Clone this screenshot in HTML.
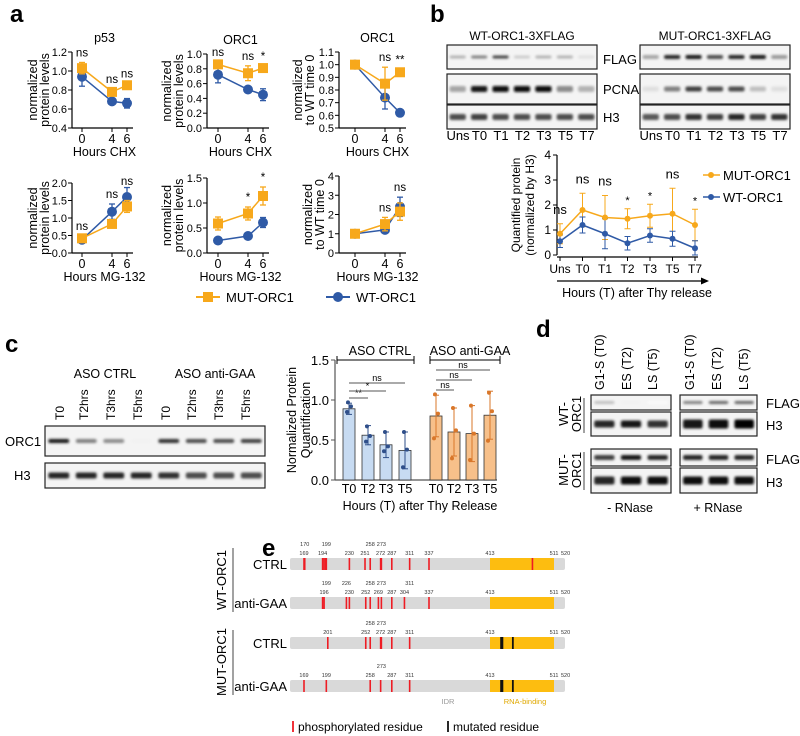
<!DOCTYPE html>
<html><head><meta charset="utf-8">
<style>
html,body{margin:0;padding:0;background:#fff;}
svg{display:block;font-family:"Liberation Sans",sans-serif;}
</style></head>
<body>
<svg id="fig" width="800" height="736" viewBox="0 0 800 736" xmlns="http://www.w3.org/2000/svg">
<defs>
<filter id="blur" x="-20%" y="-100%" width="140%" height="300%"><feGaussianBlur stdDeviation="1.3"/></filter>
</defs>
<text x="10" y="22" font-size="24" font-weight="bold">a</text>
<text x="430" y="22" font-size="24" font-weight="bold">b</text>
<text x="5" y="352" font-size="24" font-weight="bold">c</text>
<text x="536" y="337" font-size="24" font-weight="bold">d</text>
<text x="262" y="556" font-size="24" font-weight="bold">e</text>
<g id="root"></g>
</svg>
<script>
const ORANGE='#f7a81b', BLUE='#2f5aa6';
// ---------- Panel a data ----------
const aHours=[0,4,6];
const aMut1=[1.03,0.78,0.85], aMut1Err=[0.06,0.03,0.02], aWt1=[0.94,0.68,0.66], aWt1Err=[0.1,0.03,0.05], aSig1=['ns','ns','ns'];
const aMut2=[0.86,0.74,0.81], aMut2Err=[0.03,0.1,0.03], aWt2=[0.72,0.52,0.45], aWt2Err=[0.11,0.03,0.08], aSig2=['ns','ns','*'];
const aMut3=[1.0,0.85,0.94], aMut3Err=[0,0.13,0.02], aWt3=[1.0,0.74,0.62], aWt3Err=[0,0.09,0.01], aSig3=['','ns','**'];
const aMut4=[0.42,0.83,1.33], aMut4Err=[0.05,0.05,0.17], aWt4=[0.38,1.18,1.6], aWt4Err=[0.1,0.22,0.27], aSig4=['ns','ns','ns'];
const aMut5=[0.59,0.79,1.14], aMut5Err=[0.13,0.13,0.18], aWt5=[0.25,0.34,0.61], aWt5Err=[0.03,0.06,0.1], aSig5=['','*','*'];
const aMut6=[1,1.5,2.15], aMut6Err=[0,0.35,0.45], aWt6=[1,1.2,2.4], aWt6Err=[0,0.1,0.5], aSig6=['','ns','ns'];
const aTicks1=['0.4','0.6','0.8','1.0','1.2'], aTicks2=['0.0','0.2','0.4','0.6','0.8','1.0'], aTicks3=['0.5','0.6','0.7','0.8','0.9','1.0','1.1'];
const aTicks4=['0.0','0.5','1.0','1.5','2.0'], aTicks5=['0.0','0.5','1.0','1.5'], aTicks6=['0','1','2','3','4'];
// ---------- Panel b data ----------
const bCats=['Uns','T0','T1','T2','T3','T5','T7'];
const bMut=[0.85,1.8,1.5,1.45,1.57,1.65,1.2], bMutErr=[0.4,0.67,0.88,0.4,0.46,1.02,0.63];
const bWt=[0.55,1.2,0.85,0.47,0.78,0.65,0.27], bWtErr=[0.25,0.32,0.6,0.27,0.27,0.3,0.3];
const bSig=['ns','ns','ns','*','*','ns','*'];
const bTicks=['0','1','2','3','4'];
// ---------- Panel c data ----------
const cCats=['T0','T2','T3','T5'];
const cCtrl=[0.89,0.56,0.44,0.37], cCtrlErr=[0.07,0.12,0.16,0.23];
const cCtrlPts=[[0.97,0.85,0.92],[0.67,0.48,0.55],[0.6,0.36,0.42],[0.6,0.16,0.38]];
const cGaa=[0.8,0.6,0.58,0.81], cGaaErr=[0.26,0.3,0.35,0.3];
const cGaaPts=[[1.07,0.52,0.83],[0.9,0.27,0.62],[0.93,0.25,0.58],[1.09,0.49,0.86]];
const cTicks=['0.0','0.5','1.0','1.5'];

const root=document.getElementById('root');
const NS='http://www.w3.org/2000/svg';
function mk(tag,attrs,name,parent){
  const el=document.createElementNS(NS,tag);
  for(const k in attrs) el.setAttribute(k,attrs[k]);
  
  
  (parent||root).appendChild(el);
  return el;
}
function txt(x,y,s,size,name,extra){
  const a=Object.assign({x:x,y:y,'font-size':size},extra||{});
  const t=mk('text',a,name);
  t.textContent=s;
  return t;
}
function line(x1,y1,x2,y2,name,col,w){
  return mk('line',{x1:x1,y1:y1,x2:x2,y2:y2,stroke:col||'#000','stroke-width':w||1},name);
}

// ---------- Panel a ----------
function lineChart(cfg){
  const {ax,x0,yTop,yBot,ticks,mut,mutE,wt,wtE,sig,title,ylab,xlab,id,tx}=cfg;
  const vmin=parseFloat(ticks[0]), vmax=parseFloat(ticks[ticks.length-1]);
  const Y=v=>yBot-(v-vmin)/(vmax-vmin)*(yBot-yTop);
  const X=h=>x0+h/6*45;
  line(ax,yTop,ax,yBot,id+'-y-axis','#000',1.2);
  line(ax,yBot,X(6)+6,yBot,id+'-x-axis','#000',1.2);
  ticks.forEach(t=>{const y=Y(parseFloat(t));line(ax-4,y,ax,y,id+'-y-tick');txt(ax-5,y+4,t,11,id+'-y-tick-label',{'text-anchor':'end'});});
  aHours.forEach(h=>{line(X(h),yBot,X(h),yBot+4,id+'-x-tick');txt(X(h),yBot+15,String(h),12.5,id+'-x-tick-label',{'text-anchor':'middle'});});
  txt((x0+X(6))/2,yBot+28,xlab,12.5,id+'-x-title',{'text-anchor':'middle'});
  if(title) txt((x0+X(6))/2,yTop-10,title,12.5,id+'-title',{'text-anchor':'middle'});
  const cx=tx, cy=(yTop+yBot)/2;
  txt(cx,cy,ylab[0],12.5,id+'-y-title',{'text-anchor':'middle',transform:`rotate(-90 ${cx} ${cy})`});
  txt(cx+12,cy,ylab[1],12.5,id+'-y-title-2',{'text-anchor':'middle',transform:`rotate(-90 ${cx+12} ${cy})`});
  [[wt,wtE,BLUE,'wt'],[mut,mutE,ORANGE,'mut']].forEach(([vals,errs,col,nm])=>{
    mk('polyline',{points:vals.map((v,i)=>X(aHours[i])+','+Y(v)).join(' '),fill:'none',stroke:col,'stroke-width':1.5},id+'-'+nm+'-line');
    vals.forEach((v,i)=>{
      const x=X(aHours[i]);
      if(errs[i]>0){line(x,Y(v-errs[i]),x,Y(v+errs[i]),id+'-'+nm+'-err',col,1.3);
        line(x-3,Y(v-errs[i]),x+3,Y(v-errs[i]),id+'-'+nm+'-err-cap',col,1.3);line(x-3,Y(v+errs[i]),x+3,Y(v+errs[i]),id+'-'+nm+'-err-cap',col,1.3);}
      if(nm==='mut') mk('rect',{x:x-5,y:Y(v)-5,width:10,height:10,fill:col},id+'-mut-point');
      else mk('circle',{cx:x,cy:Y(v),r:5,fill:col},id+'-wt-point');
    });
  });
  sig.forEach((s,i)=>{ if(!s) return;
    const top=Math.min(Y(mut[i]+mutE[i]),Y(wt[i]+wtE[i]));
    txt(X(aHours[i]),Math.max(top-6,yTop+2),s,11.5,id+'-sig-label',{'text-anchor':'middle'});});
}
const pl=['normalized','protein levels'], wtl=['normalized','to WT time 0'];
lineChart({id:'a1',ax:72,x0:82,tx:37,yTop:52,yBot:128,ticks:aTicks1,mut:aMut1,mutE:aMut1Err,wt:aWt1,wtE:aWt1Err,sig:aSig1,title:'p53',ylab:pl,xlab:'Hours CHX'});
lineChart({id:'a2',ax:207,x0:218,tx:171,yTop:54,yBot:128,ticks:aTicks2,mut:aMut2,mutE:aMut2Err,wt:aWt2,wtE:aWt2Err,sig:aSig2,title:'ORC1',ylab:pl,xlab:'Hours CHX'});
lineChart({id:'a3',ax:339,x0:355,tx:302,yTop:52,yBot:128,ticks:aTicks3,mut:aMut3,mutE:aMut3Err,wt:aWt3,wtE:aWt3Err,sig:aSig3,title:'ORC1',ylab:wtl,xlab:'Hours CHX'});
lineChart({id:'a4',ax:72,x0:82,tx:37,yTop:183,yBot:253,ticks:aTicks4,mut:aMut4,mutE:aMut4Err,wt:aWt4,wtE:aWt4Err,sig:aSig4,title:'',ylab:pl,xlab:'Hours MG-132'});
lineChart({id:'a5',ax:207,x0:218,tx:171,yTop:178,yBot:253,ticks:aTicks5,mut:aMut5,mutE:aMut5Err,wt:aWt5,wtE:aWt5Err,sig:aSig5,title:'',ylab:pl,xlab:'Hours MG-132'});
lineChart({id:'a6',ax:339,x0:355,tx:312,yTop:176,yBot:253,ticks:aTicks6,mut:aMut6,mutE:aMut6Err,wt:aWt6,wtE:aWt6Err,sig:aSig6,title:'',ylab:wtl,xlab:'Hours MG-132'});
// legend a
line(196,297,220,297,'legend-mut-line',ORANGE,2);
mk('rect',{x:203,y:292,width:10,height:10,fill:ORANGE},'legend-mut-marker');
txt(226,302,'MUT-ORC1',13,'legend-mut-label');
line(326,297,350,297,'legend-wt-line',BLUE,2);
mk('circle',{cx:338,cy:297,r:5,fill:BLUE},'legend-wt-marker');
txt(356,302,'WT-ORC1',13,'legend-wt-label');

// ---------- Blots ----------
function blot(x,y,w,h,bands,name,thick){
  mk('rect',{x:x,y:y,width:w,height:h,fill:'#f4f4f4',stroke:'#222','stroke-width':1.2},name);
  const n=bands.length, lw=w/n;
  bands.forEach((b,i)=>{ if(b<=0) return;
    const g=Math.round(255*(1-b));
    mk('rect',{x:x+i*lw+lw*0.12,y:y+h/2-(thick||3)/2,width:lw*0.76,height:thick||3,rx:2,fill:`rgb(${g},${g},${g})`,filter:'url(#blur)'},name+'-band');
  });
}
// panel b blots
txt(522,40,'WT-ORC1-3XFLAG',12,'b-wt-title',{'text-anchor':'middle'});
txt(715,40,'MUT-ORC1-3XFLAG',12,'b-mut-title',{'text-anchor':'middle'});
blot(447,45,150,24,[0.3,0.5,0.75,0.2,0.3,0.3,0.12],'b-wt-flag-blot',3);
blot(447,74,150,30,[0.35,0.9,0.95,0.95,0.95,0.45,0.3],'b-wt-pcna-blot',6);
blot(447,105,150,24,[0.7,0.75,0.7,0.7,0.7,0.7,0.7],'b-wt-h3-blot',6);
blot(640,45,150,24,[0.35,0.85,0.9,0.7,0.85,0.9,0.4],'b-mut-flag-blot',4);
blot(640,74,150,30,[0.12,0.5,0.75,0.7,0.7,0.25,0.12],'b-mut-pcna-blot',5);
blot(640,105,150,24,[0.65,0.7,0.8,0.75,0.85,0.75,0.8],'b-mut-h3-blot',6);
txt(603,64,'FLAG',13,'b-flag-label');txt(603,94,'PCNA',13,'b-pcna-label');txt(603,122,'H3',13,'b-h3-label');
bCats.forEach((c,i)=>{txt(458+i*21.5,140,c,13,'b-wt-lane-label',{'text-anchor':'middle'});txt(651+i*21.5,140,c,13,'b-mut-lane-label',{'text-anchor':'middle'});});

// ---------- Panel b chart ----------
(function(){
  const ax=557,yTop=155,yBot=255,x0=560,dx=22.5;
  const Y=v=>yBot-v/4*(yBot-yTop), X=i=>x0+i*dx;
  line(ax,yTop,ax,yBot,'b-y-axis','#000',1.2);
  line(ax,yBot+2,X(6)+3,yBot+2,'b-x-axis','#000',1.2);
  bTicks.forEach(t=>{const y=Y(+t);line(ax-4,y,ax,y,'b-y-tick');txt(ax-6,y+4,t,12,'b-y-tick-label',{'text-anchor':'end'});});
  bCats.forEach((c,i)=>{line(X(i),yBot+2,X(i),yBot+6,'b-x-tick');txt(X(i),yBot+18,c,12,'b-x-tick-label',{'text-anchor':'middle'});});
  line(ax,281,702,281,'b-time-arrow','#000',1.2);
  mk('polygon',{points:'709,281 701,277.5 701,284.5',fill:'#000'},'b-time-arrowhead');
  txt(637,297,'Hours (T) after Thy release',12.5,'b-x-title',{'text-anchor':'middle'});
  txt(520,205,'Quantified protein',12,'b-y-title',{'text-anchor':'middle',transform:'rotate(-90 520 205)'});
  txt(534,205,'(normalized by H3)',12,'b-y-title-2',{'text-anchor':'middle',transform:'rotate(-90 534 205)'});
  [[bMut,bMutErr,ORANGE,'mut'],[bWt,bWtErr,BLUE,'wt']].forEach(([v,e,col,nm])=>{
    v.forEach((val,i)=>{const x=X(i);line(x,Y(Math.max(0,val-e[i])),x,Y(val+e[i]),'b-'+nm+'-err',col,1);
      line(x-3,Y(val+e[i]),x+3,Y(val+e[i]),'b-'+nm+'-err-cap',col,1);line(x-3,Y(Math.max(0,val-e[i])),x+3,Y(Math.max(0,val-e[i])),'b-'+nm+'-err-cap',col,1);});
  });
  [[bMut,ORANGE,'mut'],[bWt,BLUE,'wt']].forEach(([v,col,nm])=>{
    mk('polyline',{points:v.map((val,i)=>X(i)+','+Y(val)).join(' '),fill:'none',stroke:col,'stroke-width':1.5},'b-'+nm+'-line');
    v.forEach((val,i)=>mk('circle',{cx:X(i),cy:Y(val),r:3,fill:col},'b-'+nm+'-point'));
  });
  bSig.forEach((s,i)=>{const top=Y(bMut[i]+bMutErr[i]);
    txt(X(i),s==='*'?top-5:top-10,s,s==='*'?11:13,'b-sig-label',{'text-anchor':'middle'});});
  line(703,175,720,175,'b-legend-mut-line',ORANGE,1.5);mk('circle',{cx:711,cy:175,r:3,fill:ORANGE},'b-legend-mut-marker');
  txt(723,180,'MUT-ORC1',13,'b-legend-mut-label');
  line(703,197,720,197,'b-legend-wt-line',BLUE,1.5);mk('circle',{cx:711,cy:197,r:3,fill:BLUE},'b-legend-wt-marker');
  txt(723,202,'WT-ORC1',13,'b-legend-wt-label');
})();

// ---------- Panel c blot ----------
txt(105,378,'ASO CTRL',12.5,'c-ctrl-group-label',{'text-anchor':'middle'});
txt(215,378,'ASO anti-GAA',12.5,'c-gaa-group-label',{'text-anchor':'middle'});
['T0','T2hrs','T3hrs','T5hrs','T0','T2hrs','T3hrs','T5hrs'].forEach((c,i)=>{const x=[64,88,115,142,170,196,223,250][i];
  txt(x,420,c,12,'c-lane-label',{transform:`rotate(-90 ${x} 420)`});});
blot(45,426,220,30,[0.9,0.5,0.45,0.05,0.8,0.7,0.7,0.75],'c-orc1-blot',4);
blot(45,463,220,25,[0.85,0.85,0.85,0.85,0.8,0.7,0.7,0.7],'c-h3-blot',6);
txt(5,446,'ORC1',13,'c-orc1-label');txt(14,480,'H3',13,'c-h3-label');

// ---------- Panel c chart ----------
(function(){
  const ax=335,yTop=360,yBot=480;
  const Y=v=>yBot-v/1.5*(yBot-yTop);
  const xc=[349,368,386,405], xg=[436,454,472,490];
  line(ax,yTop,ax,yBot,'c-y-axis','#555',1.2);
  line(ax,yBot,497,yBot,'c-x-axis','#555',1.2);
  cTicks.forEach(t=>{const y=Y(+t);line(ax-4,y,ax,y,'c-y-tick','#555');txt(ax-6,y+5,t,13,'c-y-tick-label',{'text-anchor':'end'});});
  function bars(vals,errs,pts,xs,fill,stroke,nm){
    vals.forEach((v,i)=>{
      mk('rect',{x:xs[i]-6,y:Y(v),width:12,height:yBot-Y(v),fill:fill,stroke:'#333','stroke-width':0.8},'c-'+nm+'-bar');
      line(xs[i],Y(v-errs[i]),xs[i],Y(v+errs[i]),'c-'+nm+'-err',stroke,1);
      line(xs[i]-3,Y(v+errs[i]),xs[i]+3,Y(v+errs[i]),'c-'+nm+'-err-cap',stroke,1);
      line(xs[i]-3,Y(v-errs[i]),xs[i]+3,Y(v-errs[i]),'c-'+nm+'-err-cap',stroke,1);
      pts[i].forEach((p,j)=>mk('circle',{cx:xs[i]+[-1,-2,2][j],cy:Y(p),r:2,fill:stroke},'c-'+nm+'-dot'));
      txt(xs[i],yBot+13,cCats[i],12.5,'c-'+nm+'-x-label',{'text-anchor':'middle'});
    });
  }
  bars(cCtrl,cCtrlErr,cCtrlPts,xc,'#c7dbf2','#2f4f8a','ctrl');
  bars(cGaa,cGaaErr,cGaaPts,xg,'#f7c08a','#d9772a','gaa');
  txt(420,510,'Hours (T) after Thy Release',12.5,'c-x-title',{'text-anchor':'middle'});
  txt(296,420,'Normalized  Protein',12.5,'c-y-title',{'text-anchor':'middle',transform:'rotate(-90 296 420)'});
  txt(310,420,'Quantification',12.5,'c-y-title-2',{'text-anchor':'middle',transform:'rotate(-90 310 420)'});
  line(337,360,414,360,'c-ctrl-bracket');line(337,356,337,364,'c-ctrl-bracket-end');line(414,356,414,364,'c-ctrl-bracket-end');
  txt(380,355,'ASO CTRL',12.5,'c-ctrl-bracket-label',{'text-anchor':'middle'});
  line(430,360,500,360,'c-gaa-bracket');line(430,356,430,364,'c-gaa-bracket-end');line(500,356,500,364,'c-gaa-bracket-end');
  txt(470,355,'ASO anti-GAA',12.5,'c-gaa-bracket-label',{'text-anchor':'middle'});
  [[368,398,'**'],[386,391,'*'],[405,383,'ns']].forEach(([x2,y,s])=>{line(349,y,x2,y,'c-ctrl-sig-line','#555',1);txt((349+x2)/2,y-2,s,9,'c-ctrl-sig-label',{'text-anchor':'middle'});});
  [[454,390,'ns'],[472,380,'ns'],[490,370,'ns']].forEach(([x2,y,s])=>{line(436,y,x2,y,'c-gaa-sig-line','#555',1);txt((436+x2)/2,y-2,s,9,'c-gaa-sig-label',{'text-anchor':'middle'});});
})();

// ---------- Panel d ----------
['G1-S (T0)','ES (T2)','LS (T5)','G1-S (T0)','ES (T2)','LS (T5)'].forEach((c,i)=>{const x=[604,631,657,694,721,748][i];
  txt(x,390,c,12.5,'d-lane-label',{transform:`rotate(-90 ${x} 390)`});});
blot(591,395,80,15,[0.25,0.05,0.02],'d-wt-minus-flag-blot',3);
blot(591,412,80,24,[0.85,0.9,0.8],'d-wt-minus-h3-blot',7);
blot(680,395,77,15,[0.5,0.6,0.6],'d-wt-plus-flag-blot',3);
blot(680,412,77,24,[0.9,0.95,1.0],'d-wt-plus-h3-blot',9);
blot(591,449,80,17,[0.75,0.9,0.85],'d-mut-minus-flag-blot',5);
blot(591,468,80,25,[0.85,0.95,0.95],'d-mut-minus-h3-blot',8);
blot(680,449,77,17,[0.85,0.85,0.85],'d-mut-plus-flag-blot',5);
blot(680,468,77,25,[0.95,0.95,0.95],'d-mut-plus-h3-blot',8);
txt(766,408,'FLAG',13,'d-flag-label');txt(766,430,'H3',13,'d-h3-label');
txt(766,464,'FLAG',13,'d-flag-label-2');txt(766,487,'H3',13,'d-h3-label-2');
line(584,398,584,433,'d-wt-divider','#444');line(584,452,584,490,'d-mut-divider','#444');
txt(568,414,'WT-',13,'d-wt-label',{'text-anchor':'middle',transform:'rotate(-90 568 414)'});
txt(581,414,'ORC1',13,'d-wt-label-2',{'text-anchor':'middle',transform:'rotate(-90 581 414)'});
txt(568,470,'MUT-',13,'d-mut-label',{'text-anchor':'middle',transform:'rotate(-90 568 470)'});
txt(581,470,'ORC1',13,'d-mut-label-2',{'text-anchor':'middle',transform:'rotate(-90 581 470)'});
txt(630,512,'- RNase',12.5,'d-minus-rnase-label',{'text-anchor':'middle'});
txt(718,512,'+ RNase',12.5,'d-plus-rnase-label',{'text-anchor':'middle'});

// ---------- Panel e ----------
const eRows=[
 {label:'CTRL',y:558,phos:[169,170,194,196,198,199,230,251,258,272,273,287,311,337,478],mut:[],lab:[[169,0],[170,1],[194,0],[199,1],[230,0],[251,0],[258,1],[272,0],[273,1],[287,0],[311,0],[337,0]]},
 {label:'anti-GAA',y:597,phos:[194,196,226,230,252,258,269,273,287,304,337],mut:[],lab:[[196,0],[199,1],[226,1],[230,0],[252,0],[258,1],[269,0],[273,1],[287,0],[304,0],[311,1],[337,0]]},
 {label:'CTRL',y:637,phos:[201,252,258,272,273,287,311],mut:[430,432,448],lab:[[201,0],[252,0],[258,1],[272,0],[273,1],[287,0],[311,0]]},
 {label:'anti-GAA',y:680,phos:[169,199,258,272,287,311],mut:[430,432,448],lab:[[169,0],[199,0],[258,0],[273,1],[287,0],[311,0]]}
];
function ex(r){const P=[[150,290],[169,304],[337,429],[413,490],[511,554],[526,565]];
  for(let i=0;i<P.length-1;i++){if(r<=P[i+1][0]){const t=(r-P[i][0])/(P[i+1][0]-P[i][0]);return P[i][1]+t*(P[i+1][1]-P[i][1]);}}return 565;}
eRows.forEach((r,k)=>{
  mk('rect',{x:290,y:r.y,width:275,height:12,rx:2,fill:'#d9d9d9'},'e-protein-bar');
  mk('rect',{x:ex(413),y:r.y,width:ex(511)-ex(413),height:12,fill:'#fdbd10'},'e-rna-binding-domain');
  r.phos.forEach(p=>line(ex(p),r.y,ex(p),r.y+12,'e-phospho-mark','#ee1c24',1.6));
  r.mut.forEach(p=>line(ex(p),r.y,ex(p),r.y+12,'e-mutated-mark','#111',1.8));
  r.lab.forEach(([p,lvl])=>txt(ex(p),r.y-3-lvl*9,String(p),5.5,'e-residue-label',{'text-anchor':'middle',fill:'#333'}));
  [[413,0],[511,0],[520,0]].forEach(([p])=>txt(p===520?561:ex(p),r.y-3,String(p),5.5,'e-domain-label',{'text-anchor':p===520?'start':'middle',fill:'#333'}));
  txt(287,r.y+11,r.label,13,'e-row-label',{'text-anchor':'end'});
});
line(233,548,233,612,'e-wt-divider','#444');line(233,630,233,695,'e-mut-divider','#444');
txt(226,580,'WT-ORC1',13,'e-wt-group-label',{'text-anchor':'middle',transform:'rotate(-90 226 580)'});
txt(226,662,'MUT-ORC1',13,'e-mut-group-label',{'text-anchor':'middle',transform:'rotate(-90 226 662)'});
txt(448,704,'IDR',7.5,'e-idr-label',{'text-anchor':'middle',fill:'#999'});
txt(525,704,'RNA-binding',7.5,'e-rna-binding-label',{'text-anchor':'middle',fill:'#e0a800'});
line(293,721,293,732,'e-legend-phospho-mark','#ee1c24',1.8);
txt(298,731,'phosphorylated residue',12,'e-legend-phospho-label');
line(448,721,448,732,'e-legend-mutated-mark','#111',1.8);
txt(453,731,'mutated residue',12,'e-legend-mutated-label');
</script>
</body></html>
